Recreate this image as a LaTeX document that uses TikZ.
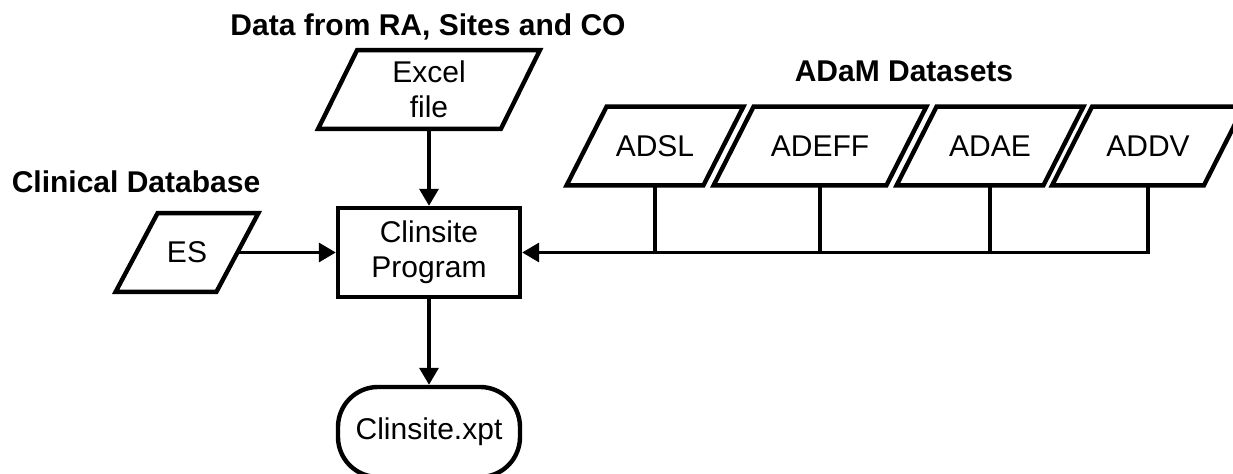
\documentclass[tikz,border=0pt]{standalone}
\usepackage{fontspec}
\setmainfont{Liberation Sans}
\usetikzlibrary{arrows.meta}
\begin{document}
\begin{tikzpicture}[x=0.5pt,y=-0.5pt,
	>={Triangle[length=8.5pt,width=9.5pt]},
	txt/.style={font=\fontsize{15}{17.5}\selectfont},
	head/.style={font=\fontsize{15}{17.5}\selectfont\bfseries,anchor=base},
	io/.style={txt,inner sep=0pt,minimum height=39pt,align=center},
	proc/.style={txt,draw,line width=2.2pt,minimum width=91pt,minimum height=44.5pt,inner sep=0pt,align=center},
	term/.style={proc,rounded corners=20pt,minimum height=45pt},
	link/.style={line width=1.7pt}]
	\useasboundingbox (0,0) rectangle (1233,474);
	% headings
	\node[head] (hexcel) at (428,36) {Data from RA, Sites and CO};
	\node[head] (hclin) at (136,193) {Clinical Database};
	\node[head] (hadam) at (904,82) {ADaM Datasets};
	% inputs
	\node[io,minimum width=91pt] (excel) at (429,89.5) {Excel\\file};
	\node[io,minimum width=50pt] (es) at (187,252.5) {ES};
	\node[io,minimum width=68pt] (adsl) at (655,146) {ADSL};
	\node[io,minimum width=86pt] (adeff) at (820,146) {ADEFF};
	\node[io,minimum width=73pt] (adae) at (990,146) {ADAE};
	\node[io,minimum width=75.5pt] (addv) at (1148,146) {ADDV};
	\foreach \n/\s in {excel/9.75pt,es/10.5pt,adsl/10pt,adeff/10pt,adae/10pt,addv/10pt}
		\draw[line width=2.2pt] ([xshift=\s]\n.north west) -- ([xshift=\s]\n.north east) -- ([xshift=-\s]\n.south east) -- ([xshift=-\s]\n.south west) -- cycle;
	% program and output
	\node[proc] (prog) at (429,252.5) {Clinsite\\Program};
	\node[term] (xpt) at (429,432) {Clinsite.xpt};
	% connectors
	\draw[link,->] (excel) -- (prog);
	\draw[link,->] (es) -- (prog);
	\draw[link,->] (prog) -- (xpt);
	\foreach \n in {adsl,adeff,adae}
		\draw[link] (\n.south) -- (\n.south |- prog.east);
	\draw[link,->] (addv.south) -- (addv.south |- prog.east) -- (prog.east);
\end{tikzpicture}
\end{document}
